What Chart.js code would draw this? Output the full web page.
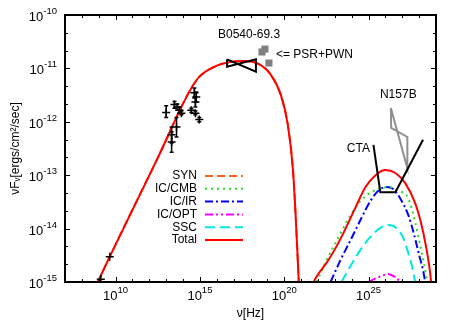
<!DOCTYPE html>
<html>
<head>
<meta charset="utf-8">
<script src="https://cdn.jsdelivr.net/npm/chart.js@4.4.0/dist/chart.umd.min.js"></script>
<style>
  html, body { margin: 0; padding: 0; background: #fff; }
  #wrap { width: 458px; height: 321px; position: relative; }
</style>
</head>
<body>
<div id="wrap"><canvas id="sed"></canvas></div>
<script>
// axis ticks (base 10, exponent written as superscript)
const xTickVals = [1e10, 1e15, 1e20, 1e25];
const xTickExps = ['10', '15', '20', '25'];
const yTickVals = [1e-15, 1e-14, 1e-13, 1e-12, 1e-11, 1e-10];
const yTickExps = ['-15', '-14', '-13', '-12', '-11', '-10'];

// model curves: nu [Hz] and nuFnu [ergs/cm2/sec]
const synNu   = [8.9e8, 4.5e9, 2.7e12, 6.2e14, 7.0e15, 5.4e16, 4.2e17, 3.2e18, 1.6e19, 6.3e19, 1.65e20, 3.3e20, 4.9e20, 7.3e20];
const synFlux = [1.0e-15, 2.98e-15, 1.9e-13, 6.0e-12, 1.07e-11, 1.3e-11, 1.37e-11, 1.2e-11, 7.6e-12, 3.2e-12, 8.7e-13, 1.26e-13, 1.45e-14, 1.0e-15];

const icNu   = [5.6e21, 7.4e21, 4.3e22, 2.5e23, 1.7e24, 6.6e24, 2.6e25, 9.9e25, 3.9e26, 1.5e27, 5.8e27, 1.3e28, 2.6e28, 4.5e28, 5.1e28];
const icFlux = [1.0e-15, 1.19e-15, 2.6e-15, 7.0e-15, 2.5e-14, 6.0e-14, 1.0e-13, 1.25e-13, 1.1e-13, 7.1e-14, 3.0e-14, 1.27e-14, 4.5e-15, 1.48e-15, 1.0e-15];

const cmbNu   = [8.4e21, 3.3e22, 1.7e23, 8.6e23, 3.8e24, 1.5e25, 5.8e25, 1.5e26, 5.8e26, 2.26e27, 5.8e27, 1.15e28, 2.0e28, 3.0e28];
const cmbFlux = [1.0e-15, 2.6e-15, 7.0e-15, 1.8e-14, 3.44e-14, 4.84e-14, 5.75e-14, 6.0e-14, 5.1e-14, 3.7e-14, 1.33e-14, 4.9e-15, 2.1e-15, 1.0e-15];

const irNu   = [5.6e22, 2.2e23, 8.6e23, 3.3e24, 1.3e25, 3.8e25, 1.14e26, 2.9e26, 8.7e26, 2.26e27, 5.1e27, 1.0e28, 1.7e28, 2.3e28];
const irFlux = [1.0e-15, 2.6e-15, 6.1e-15, 1.45e-14, 3.3e-14, 5.1e-14, 6.0e-14, 5.5e-14, 3.4e-14, 1.8e-14, 7.6e-15, 3.2e-15, 1.68e-15, 1.0e-15];

const optNu   = [9.9e24, 3.8e25, 1.5e26, 3.9e26, 7.6e26];
const optFlux = [1.0e-15, 1.23e-15, 1.4e-15, 1.23e-15, 1.0e-15];

const sscNu   = [2.5e23, 8.6e23, 3.3e24, 1.3e25, 5.0e25, 1.5e26, 4.4e26, 1.15e27, 2.26e27, 3.9e27, 5.8e27];
const sscFlux = [1.0e-15, 2.0e-15, 4.0e-15, 7.0e-15, 1.03e-14, 1.17e-14, 1.03e-14, 6.7e-15, 3.5e-15, 1.9e-15, 1.0e-15];

// measured points with vertical error bars
const obsNu   = [1.33e9, 4.5e9, 1.0e13, 3.1e13, 4.6e13, 6.1e13, 8.0e13, 4.1e13, 2.1e13, 2.1e13, 4.7e14, 6.1e14, 5.4e14, 3.1e14, 5.4e14, 9.2e14];
const obsFlux = [1.12e-15, 2.98e-15, 1.5e-12, 2.1e-12, 1.9e-12, 1.65e-12, 1.45e-12, 8.0e-13, 5.7e-13, 4.2e-13, 3.5e-12, 2.9e-12, 2.35e-12, 1.65e-12, 1.45e-12, 1.1e-12];
const obsLow  = [null, null, 1.2e-12, 1.8e-12, 1.65e-12, 1.45e-12, 1.35e-12, 5.2e-13, 4.0e-13, 2.7e-13, 2.8e-12, 2.35e-12, 1.9e-12, 1.5e-12, 1.35e-12, 1.0e-12];
const obsHigh = [null, null, 2.0e-12, 2.4e-12, 2.15e-12, 1.9e-12, 1.6e-12, 1.2e-12, 8.0e-13, 6.5e-13, 4.3e-12, 3.6e-12, 2.9e-12, 1.8e-12, 1.6e-12, 1.2e-12];

// B0540-69.3 X-ray bowtie
const xrayNu   = [4.1e16, 2.1e18, 2.1e18, 4.1e16, 4.1e16];
const xrayFlux = [1.48e-11, 8.7e-12, 1.48e-11, 1.08e-11, 1.48e-11];

// PSR+PWN
const pwnNu   = [4.8e18, 7.2e18, 1.24e19];
const pwnFlux = [2.03e-11, 2.3e-11, 1.26e-11];

// N157B bowtie
const n157Nu   = [2.1e26, 2.0e27, 2.0e27, 2.2e26, 2.1e26];
const n157Flux = [1.81e-12, 1.36e-13, 5.2e-13, 7.7e-13, 1.81e-12];

// CTA sensitivity
const ctaNu   = [1.95e25, 5.0e25, 3.9e26, 1.7e28];
const ctaFlux = [3.7e-13, 4.8e-14, 4.8e-14, 4.6e-13];

const notes = [
  { text: 'B0540-69.3', nu: 8.2e17, flux: 4.2e-11, align: 'center' },
  { text: '<= PSR+PWN', nu: 3.2e19, flux: 1.78e-11, align: 'left' },
  { text: 'N157B', nu: 5.8e26, flux: 3.2e-12, align: 'center' },
  { text: 'CTA', nu: 2.5e24, flux: 3.1e-13, align: 'center' }
];
const legendRows = ['SYN', 'IC/CMB', 'IC/IR', 'IC/OPT', 'SSC', 'Total'];

const FONT = "'Liberation Sans', Arial, sans-serif";
const pts = (xs, ys) => xs.map((x, i) => ({ x: x, y: ys[i] }));

function curve(label, xs, ys, color, dash) {
  return {
    label: label, data: pts(xs, ys), showLine: true, pointRadius: 0,
    borderColor: color, borderWidth: 2, borderDash: dash,
    cubicInterpolationMode: 'monotone'
  };
}
function outline(label, xs, ys, color, width) {
  return {
    label: label, data: pts(xs, ys), showLine: true, pointRadius: 0,
    borderColor: color, borderWidth: width, tension: 0
  };
}

const totalData = pts(synNu, synFlux).concat([{ x: 2e21, y: null }], pts(icNu, icFlux));

// draws "10" with a raised exponent; anchor is the right edge or the centre
function powerLabel(ctx, px, baseY, exp, anchor) {
  ctx.font = '13px ' + FONT;
  const wb = ctx.measureText('10').width;
  ctx.font = '9.5px ' + FONT;
  const we = ctx.measureText(exp).width;
  const left = anchor === 'right' ? px - wb - we : px - (wb + we) / 2;
  ctx.textAlign = 'left';
  ctx.textBaseline = 'alphabetic';
  ctx.font = '13px ' + FONT;
  ctx.fillText('10', left, baseY);
  ctx.font = '9.5px ' + FONT;
  ctx.fillText(exp, left + wb, baseY - 7);
}

const extras = {
  id: 'extras',
  afterDatasetsDraw(chart) {
    const { ctx, scales: { x, y } } = chart;
    ctx.save();
    ctx.strokeStyle = '#000';
    ctx.lineWidth = 1.5;
    obsNu.forEach((nu, i) => {
      if (obsLow[i] == null) return;
      const px = x.getPixelForValue(nu);
      const lo = y.getPixelForValue(obsLow[i]);
      const hi = y.getPixelForValue(obsHigh[i]);
      ctx.beginPath();
      ctx.moveTo(px, lo); ctx.lineTo(px, hi);
      ctx.moveTo(px - 2, lo); ctx.lineTo(px + 2, lo);
      ctx.moveTo(px - 2, hi); ctx.lineTo(px + 2, hi);
      ctx.stroke();
    });
    ctx.restore();
  },
  afterDraw(chart) {
    const { ctx, chartArea: a, scales: { x, y } } = chart;
    ctx.save();
    // frame and inward ticks
    ctx.strokeStyle = '#000';
    ctx.lineWidth = 2;
    ctx.strokeRect(a.left, a.top, a.right - a.left, a.bottom - a.top);
    ctx.lineWidth = 1;
    ctx.beginPath();
    for (let e = 8; e <= 28; e++) {
      const px = Math.round(x.getPixelForValue(Math.pow(10, e))) + 0.5;
      const len = e % 5 === 0 ? 5 : 3;
      ctx.moveTo(px, a.bottom); ctx.lineTo(px, a.bottom - len);
      ctx.moveTo(px, a.top); ctx.lineTo(px, a.top + len);
    }
    for (let k = -44; k <= -31; k++) {
      const py = Math.round(y.getPixelForValue(Math.pow(10, k / 3))) + 0.5;
      const len = k % 3 === 0 ? 5 : 3;
      ctx.moveTo(a.left, py); ctx.lineTo(a.left + len, py);
      ctx.moveTo(a.right, py); ctx.lineTo(a.right - len, py);
    }
    ctx.stroke();

    // tick labels
    ctx.fillStyle = '#000';
    xTickVals.forEach((v, i) => powerLabel(ctx, x.getPixelForValue(v), a.bottom + 18, xTickExps[i], 'center'));
    yTickVals.forEach((v, i) => powerLabel(ctx, a.left - 8, y.getPixelForValue(v) + 6, yTickExps[i], 'right'));

    // annotations
    ctx.font = '12px ' + FONT;
    ctx.textBaseline = 'middle';
    notes.forEach(n => {
      ctx.textAlign = n.align;
      ctx.fillText(n.text, x.getPixelForValue(n.nu), y.getPixelForValue(n.flux));
    });

    // key, gnuplot style
    legendRows.forEach((name, i) => {
      const ds = chart.data.datasets.find(d => d.label === name);
      const ly = a.top + 161 + i * 12.8;
      ctx.textAlign = 'right';
      ctx.fillStyle = '#000';
      ctx.fillText(name, a.left + 132, ly);
      ctx.strokeStyle = ds.borderColor;
      ctx.lineWidth = 2;
      ctx.setLineDash(ds.borderDash || []);
      ctx.beginPath();
      ctx.moveTo(a.left + 140, ly);
      ctx.lineTo(a.left + 178, ly);
      ctx.stroke();
      ctx.setLineDash([]);
    });
    ctx.restore();
  }
};

new Chart(document.getElementById('sed'), {
  type: 'scatter',
  data: {
    datasets: [
      {
        label: 'data', data: pts(obsNu, obsFlux), pointStyle: 'cross',
        pointRadius: 4, borderColor: '#000', borderWidth: 1.5, showLine: false
      },
      outline('CTA', ctaNu, ctaFlux, '#000', 2),
      outline('B0540-69.3', xrayNu, xrayFlux, '#000', 2),
      {
        label: 'PSR+PWN', data: pts(pwnNu, pwnFlux), pointStyle: 'rect',
        pointRadius: 5, backgroundColor: '#808080', borderColor: '#808080', borderWidth: 0
      },
      outline('N157B', n157Nu, n157Flux, '#909090', 2),
      Object.assign(curve('Total', [], [], '#ff0000', []), { data: totalData }),
      curve('SYN', synNu, synFlux, '#ff6020', [8, 4]),
      curve('IC/CMB', cmbNu, cmbFlux, '#22e022', [2, 4]),
      curve('IC/IR', irNu, irFlux, '#0000ff', [8, 3, 2, 3]),
      curve('IC/OPT', optNu, optFlux, '#ff00ff', [8, 3, 2, 3, 2, 3]),
      curve('SSC', sscNu, sscFlux, '#00e8e8', [10, 5])
    ]
  },
  options: {
    responsive: true,
    maintainAspectRatio: false,
    animation: false,
    devicePixelRatio: 1,
    layout: { padding: { top: 15, right: 22, left: 0, bottom: 0 } },
    plugins: { legend: { display: false }, tooltip: { enabled: false } },
    scales: {
      x: {
        type: 'logarithmic', min: 1e7, max: 1e29,
        afterBuildTicks: s => { s.ticks = xTickVals.map(v => ({ value: v })); },
        afterFit: s => { s.height = 39; },
        grid: { display: false, drawTicks: false },
        border: { display: false },
        ticks: { display: false },
        title: { display: true, text: 'ν[Hz]', color: '#000', font: { family: FONT, size: 12 }, padding: { top: 0, bottom: 0 } }
      },
      y: {
        type: 'logarithmic', min: 1e-15, max: 1e-10,
        afterBuildTicks: s => { s.ticks = yTickVals.map(v => ({ value: v })); },
        afterFit: s => { s.width = 65; },
        grid: { display: false, drawTicks: false },
        border: { display: false },
        ticks: { display: false },
        title: { display: true, text: 'νFᵥ[ergs/cm²/sec]', color: '#000', font: { family: FONT, size: 12 }, padding: { top: 8, bottom: 0 } }
      }
    }
  },
  plugins: [extras]
});
</script>
</body>
</html>
